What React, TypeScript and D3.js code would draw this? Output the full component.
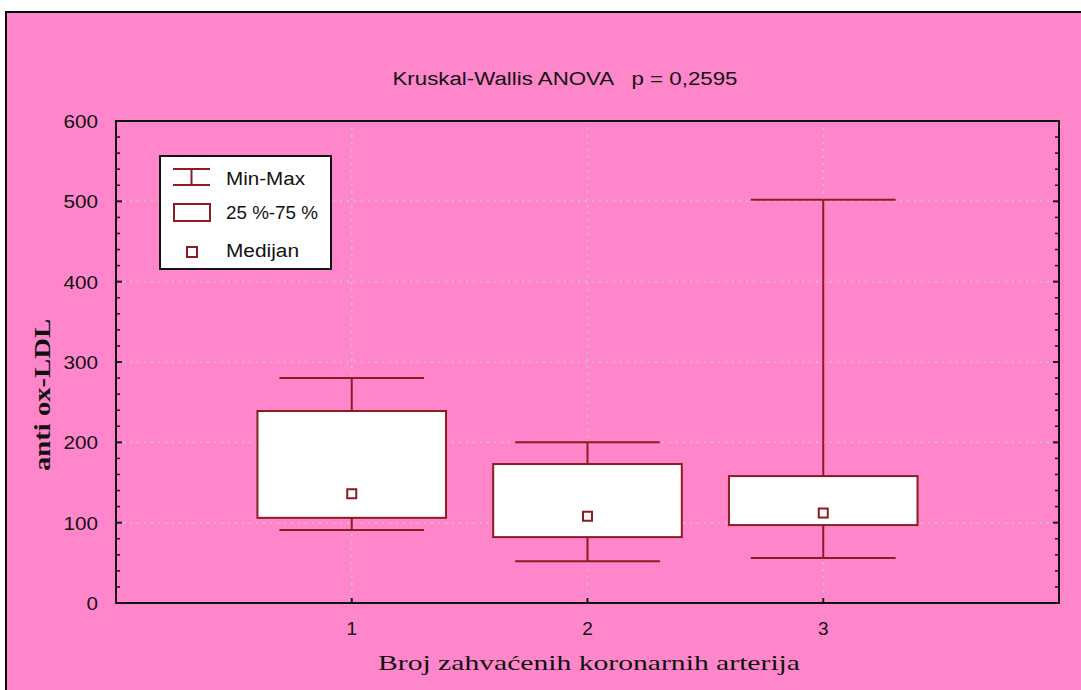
import React from "react";
import * as d3 from "d3";

const categories = [1, 2, 3];
const minValues = [91, 52, 56];
const q1Values = [106, 82, 97];
const medianValues = [136, 108, 112];
const q3Values = [239, 173, 158];
const maxValues = [280, 200, 502];
const yTicks = [0, 100, 200, 300, 400, 500, 600];
const legendLabels = ["Min-Max", "25%-75%", "Medijan"];

const W = 1081, H = 690;
const PL = 116, PR = 1059, PT = 121, PB = 603;
const PINK = "#FF86CB";
const DARK = "#8E1A22";

export default function App() {
  const x = d3.scaleLinear().domain([0, 4]).range([PL, PR]);
  const y = d3.scaleLinear().domain([0, 600]).range([PB, PT]);
  const minorTicks = d3.range(0, 601, 20).filter((v) => v % 100 !== 0);
  const sans = "'Liberation Sans', Arial, sans-serif";
  const serif = "'Liberation Serif', 'Times New Roman', serif";
  const boxHalf = x(0.4) - x(0);
  const capHalf = x(0.307) - x(0);
  return (
    <svg width={W} height={H} style={{ position: "absolute", left: 0, top: 0, display: "block" }}>
      <rect x={0} y={0} width={W} height={H} fill="#fff" />
      <rect x={6} y={12} width={W + 20} height={H + 20} fill={PINK} stroke="#000" strokeWidth={2} />
      <text x={565} y={85} textAnchor="middle" fontFamily={sans} fontSize={18} fill="#111" style={{ whiteSpace: "pre" }} textLength={345} lengthAdjust="spacingAndGlyphs">
        {"Kruskal-Wallis ANOVA   p = 0,2595"}
      </text>
      {/* gridlines */}
      {yTicks.slice(1, -1).map((v) => (
        <line key={"gy" + v} x1={PL} x2={PR} y1={y(v)} y2={y(v)} stroke="#C8C8C8" strokeWidth={1.5} strokeDasharray="2,5" />
      ))}
      {categories.map((c) => (
        <line key={"gx" + c} x1={x(c)} x2={x(c)} y1={PT} y2={PB} stroke="#C8C8C8" strokeWidth={1.5} strokeDasharray="2,5" />
      ))}
      {/* boxes */}
      {categories.map((c, i) => {
        const cx = x(c);
        return (
          <g key={"b" + c} stroke={DARK} strokeWidth={2}>
            <line x1={cx} x2={cx} y1={y(maxValues[i])} y2={y(q3Values[i])} />
            <line x1={cx} x2={cx} y1={y(q1Values[i])} y2={y(minValues[i])} />
            <line x1={cx - capHalf} x2={cx + capHalf} y1={y(maxValues[i])} y2={y(maxValues[i])} />
            <line x1={cx - capHalf} x2={cx + capHalf} y1={y(minValues[i])} y2={y(minValues[i])} />
            <rect x={cx - boxHalf} y={y(q3Values[i])} width={2 * boxHalf} height={y(q1Values[i]) - y(q3Values[i])} fill="#fff" />
            <rect x={cx - 4.5} y={y(medianValues[i]) - 4.5} width={9} height={9} fill="#fff" />
          </g>
        );
      })}
      {/* frame */}
      <rect x={PL} y={PT} width={PR - PL} height={PB - PT} fill="none" stroke="#111" strokeWidth={2} />
      {yTicks.map((v) => (
        <g key={"yt" + v}>
          <line x1={PL} x2={PL + 6} y1={y(v)} y2={y(v)} stroke="#111" strokeWidth={2} />
          <line x1={PR} x2={PR - 6} y1={y(v)} y2={y(v)} stroke="#111" strokeWidth={2} />
          <text x={98} y={y(v) + 7} textAnchor="end" fontFamily={sans} fontSize={19} fill="#111" textLength={String(v).length * 11.5} lengthAdjust="spacingAndGlyphs">{v}</text>
        </g>
      ))}
      {minorTicks.map((v) => (
        <g key={"ym" + v}>
          <line x1={PL} x2={PL + 4} y1={y(v)} y2={y(v)} stroke="#111" strokeWidth={1.5} />
          <line x1={PR} x2={PR - 4} y1={y(v)} y2={y(v)} stroke="#111" strokeWidth={1.5} />
        </g>
      ))}
      {categories.map((c) => (
        <g key={"xt" + c}>
          <line x1={x(c)} x2={x(c)} y1={PB} y2={PB - 5} stroke="#111" strokeWidth={2} />
          <text x={x(c)} y={635} textAnchor="middle" fontFamily={sans} fontSize={19} fill="#111">{c}</text>
        </g>
      ))}
      <text x={589} y={670} textAnchor="middle" fontFamily={serif} fontSize={21} fill="#111" textLength={422} lengthAdjust="spacingAndGlyphs">
        Broj zahvaćenih koronarnih arterija
      </text>
      <text transform="translate(50,395) rotate(-90)" textAnchor="middle" fontFamily={serif} fontWeight="bold" fontSize={24} fill="#111" textLength={152} lengthAdjust="spacingAndGlyphs">
        anti ox-LDL
      </text>
      {/* legend */}
      <g>
        <rect x={160} y={156} width={171} height={113} fill="#fff" stroke="#111" strokeWidth={2} />
        <g stroke={DARK} strokeWidth={2} fill="#fff">
          <line x1={173} x2={210} y1={169} y2={169} />
          <line x1={173} x2={210} y1={185} y2={185} />
          <line x1={191.5} x2={191.5} y1={169} y2={185} />
          <rect x={174} y={204} width={36} height={17} />
          <rect x={187} y={247} width={10} height={10} />
        </g>
        {legendLabels.map((l, i) => (
          <text key={l} x={226} y={[185, 219, 257][i]} fontFamily={sans} fontSize={18} fill="#111" textLength={[79, 92, 73][i]} lengthAdjust="spacingAndGlyphs">{l.replace(/%/g, " %")}</text>
        ))}
      </g>
    </svg>
  );
}
